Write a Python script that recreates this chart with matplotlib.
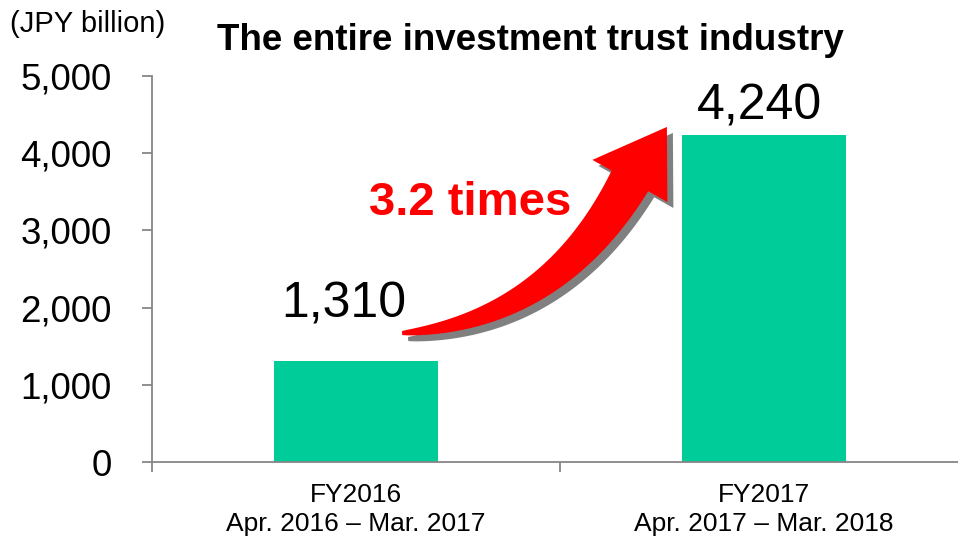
import numpy as np
import matplotlib as mpl
mpl.use('Agg')
from matplotlib import pyplot as plt
from matplotlib.patches import Polygon

categories = ["FY2016\nApr. 2016 \u2013 Mar. 2017", "FY2017\nApr. 2017 \u2013 Mar. 2018"]
values = [1310, 4240]
value_labels = ["1,310", "4,240"]
yticks = [0, 1000, 2000, 3000, 4000, 5000]
ytick_labels = ["0", "1,000", "2,000", "3,000", "4,000", "5,000"]
ratio_text = "3.2 times"

BAR = "#00CC99"
AXIS = "#868686"


def bezier(p0, p1, p2, u):
    u = u[:, None]
    return (1 - u)**2 * p0 + 2 * (1 - u) * u * p1 + u**2 * p2


def arrow_polygon(p0, p1, p2, tip, w0, w1, head_w):
    # curved arrow whose shaft widens from tail to head (display coords)
    u = np.linspace(0, 1, 80)
    c = bezier(p0, p1, p2, u)
    d = np.gradient(c, axis=0)
    d /= np.linalg.norm(d, axis=1)[:, None]
    n = np.column_stack([-d[:, 1], d[:, 0]])
    w = w0 + (w1 - w0) * u**0.8
    left = c + n * (w[:, None] / 2)
    right = c - n * (w[:, None] / 2)
    nd = n[-1]
    head = [c[-1] + nd * head_w / 2, tip, c[-1] - nd * head_w / 2]
    return np.vstack([left, head, right[::-1]])


def main():
    plt.rcParams['font.family'] = ['Liberation Sans', 'DejaVu Sans']

    fig = plt.figure(figsize=(9.58, 5.36), dpi=100)
    ax = fig.add_axes([152 / 958, 74 / 536, 816 / 958, 386 / 536])

    x = np.arange(len(values))
    ax.bar(x, values, width=0.4, color=BAR, zorder=2)

    ax.set_xlim(-0.5, 1.5)
    ax.set_ylim(0, 5000)
    ax.set_yticks(yticks)
    ax.set_yticklabels(ytick_labels, fontsize=26.5)
    ax.set_xticks(x)
    ax.set_xticklabels(categories, fontsize=19, linespacing=1.25)
    ax.set_xticks([-0.5, 0.5, 1.5], minor=True)
    ax.tick_params(axis='x', which='major', length=0, pad=15)
    ax.tick_params(axis='x', which='minor', length=7, color=AXIS, width=1.3,
                   direction='out')
    ax.tick_params(axis='y', length=7, color=AXIS, width=1.3, pad=22)

    for side in ['top', 'right']:
        ax.spines[side].set_visible(False)
    for side in ['left', 'bottom']:
        ax.spines[side].set_color(AXIS)
        ax.spines[side].set_linewidth(1.3)

    # value labels above bars
    offsets = [(-9, 31), (-3, 11)]
    for xi, v, lab, off in zip(x, values, value_labels, offsets):
        ax.annotate(lab, (xi, v), xytext=off, textcoords='offset points',
                    ha='center', va='baseline', fontsize=36)

    fig.text(10 / 958, 1 - 24 / 536, "(JPY billion)", fontsize=21,
             ha='left', va='center')
    fig.text(530 / 958, 1 - 40 / 536, "The entire investment trust industry",
             fontsize=26.5, fontweight='bold', ha='center', va='center')

    # curved growth arrow from bar 1 to bar 2
    fig.canvas.draw()
    tr = ax.transData
    start = tr.transform((x[0] + 0.113, values[0] + 360))
    tip = tr.transform((x[1] - 0.238, values[1] + 100))
    base = tip - np.array([37.0, 54.0])
    ctrl = start + np.array([150.0, 12.0])
    pts = arrow_polygon(start, ctrl, base, tip, 4, 42, 86)
    shadow = Polygon(pts + np.array([6, -6]), closed=True, transform=None,
                     facecolor='#808080', edgecolor='none', zorder=3)
    arrow = Polygon(pts, closed=True, transform=None,
                    facecolor='#FF0000', edgecolor='none', zorder=4)
    fig.add_artist(shadow)
    fig.add_artist(arrow)

    ax.text(0.279, 3355, ratio_text, color='#FF0000', fontsize=34,
            fontweight='bold', ha='center', va='center', zorder=5)

    fig.savefig("out.png", dpi=100)


if __name__ == "__main__":
    main()
